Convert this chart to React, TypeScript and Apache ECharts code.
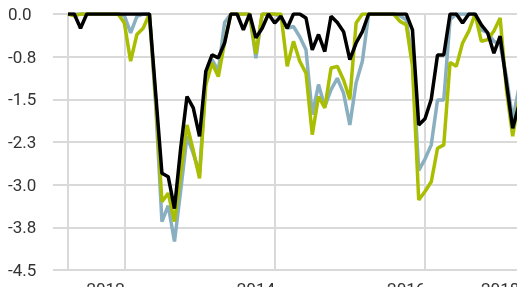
import React, { useEffect, useRef } from "react";
import * as echarts from "echarts";

// Monthly observations, index 0 = first month shown
const seriesNames = ["Series A", "Series B", "Series C"];
const blueValues = [
  0, 0, 0, 0, 0, 0, 0, 0, 0, -0.03, -0.33, -0.04, 0, 0, -1.6, -3.65, -3.37, -4.0, -3.1, -2.15,
  -2.45, -2.8, -1.15, -0.8, -1.0, -0.15, 0, 0, 0, 0, -0.78, 0, 0, 0, -0.05, -0.25, -0.22, -0.4, -0.63, -1.77,
  -1.24, -1.63, -1.33, -1.13, -1.39, -1.95, -1.21, -0.83, 0, 0, 0, 0, 0, -0.03, -0.1, -0.8, -2.75, -2.55, -2.3, -1.51,
  -1.51, -0.1, 0, 0, 0, 0, -0.28, -0.33, -0.48, -0.54, -1.1, -1.86, -1.3,
];
const greenValues = [
  0, -0.03, 0, 0, 0, 0, 0, 0, 0, -0.16, -0.83, -0.36, -0.25, 0, -1.5, -3.3, -3.15, -3.65, -2.8, -1.95,
  -2.4, -2.89, -1.25, -0.86, -1.1, -0.5, 0, 0, 0, 0, -0.7, 0, 0, 0, 0, -0.92, -0.48, -0.83, -1.04, -2.12,
  -1.45, -1.65, -0.95, -0.92, -1.16, -1.5, -0.16, 0, 0, 0, 0, 0, 0, -0.13, -0.19, -0.92, -3.27, -3.12, -2.95, -2.36,
  -2.3, -0.85, -0.92, -0.51, -0.3, 0, -0.48, -0.45, -0.3, -0.07, -1.33, -2.15, -1.5,
];
const blackValues = [
  0, 0, -0.25, 0, 0, 0, 0, 0, 0, 0, 0, 0, 0, 0, -1.4, -2.8, -2.86, -3.42, -2.35, -1.45,
  -1.65, -2.15, -1.01, -0.72, -0.77, -0.51, 0, 0, -0.28, 0, -0.42, -0.25, 0, -0.16, -0.04, -0.25, 0, 0, -0.07, -0.63,
  -0.36, -0.66, -0.04, -0.15, -0.31, -0.8, -0.51, -0.31, 0, 0, 0, 0, 0, 0, 0, -0.28, -1.95, -1.84, -1.5, -0.72,
  -0.72, 0, 0, -0.16, 0, 0, -0.19, -0.33, -0.69, -0.39, -1.21, -2.01, -1.6,
];

const yTickLabels = ["0.0", "-0.8", "-1.5", "-2.3", "-3.0", "-3.8", "-4.5"];
const xTickMonths = [0, 9, 33, 57];
const xLabelTexts = ["2012", "2014", "2016", "2018"];
const xLabelMonths = [6, 30, 54, 69];

const colors = ["#8aafc0", "#a9be00", "#000000"];

export default function App() {
  const ref = useRef<HTMLDivElement>(null);
  useEffect(() => {
    if (!ref.current) return;
    const chart = echarts.init(ref.current, null, { renderer: "svg" });
    const toPairs = (arr: number[]) => arr.map((v, i) => [i, v]);
    const all = [blueValues, greenValues, blackValues];
    const gridColor = "#d9d9d9";
    chart.setOption({
      animation: false,
      grid: {
        left: 53,
        right: 0,
        top: 14,
        bottom: 17,
        containLabel: false,
        outerBoundsMode: "none",
      },
      xAxis: {
        type: "value",
        min: -2.395,
        max: 71.69,
        axisLine: { show: false },
        axisTick: {
          show: true,
          customValues: xTickMonths,
          length: 20,
          lineStyle: { color: gridColor, width: 2 },
        },
        splitLine: { show: true, lineStyle: { color: gridColor, width: 2 } },
        axisLabel: {
          customValues: xLabelMonths,
          margin: 10,
          fontFamily: "Roboto",
          fontSize: 17,
          color: "#333",
          formatter: (v: number) => {
            const idx = xLabelMonths.findIndex((m) => Math.abs(m - v) < 1e-6);
            return idx >= 0 ? xLabelTexts[idx] : "";
          },
        },
      },
      yAxis: {
        type: "value",
        min: -4.5,
        max: 0,
        interval: 0.75,
        axisLine: { show: false },
        axisTick: { show: false },
        splitLine: { show: true, lineStyle: { color: gridColor, width: 2 } },
        axisLabel: {
          align: "left",
          margin: 45,
          fontFamily: "Roboto",
          fontSize: 17,
          color: "#333",
          formatter: (v: number) => yTickLabels[Math.round(-v / 0.75)] ?? "",
        },
      },
      series: all.map((arr, k) => ({
        name: seriesNames[k],
        type: "line",
        data: toPairs(arr),
        showSymbol: false,
        symbol: "none",
        clip: true,
        lineStyle: { color: colors[k], width: 3.5 },
        z: 2 + k,
      })),
    });
    return () => chart.dispose();
  }, []);
  return (
    <div
      ref={ref}
      style={{ position: "fixed", left: 0, top: 0, width: 517, height: 287 }}
    />
  );
}
